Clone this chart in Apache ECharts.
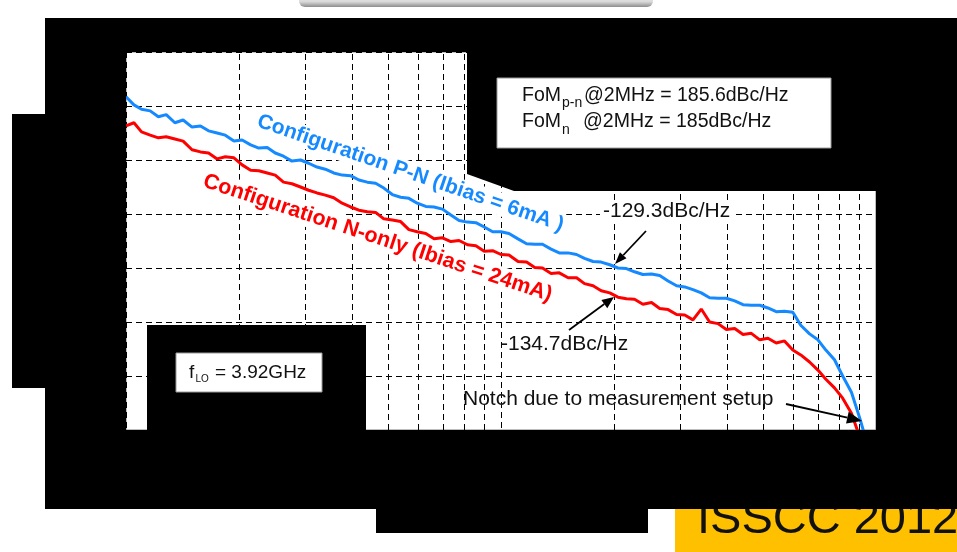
<!DOCTYPE html>
<html>
<head>
<meta charset="utf-8">
<script src="https://cdn.jsdelivr.net/npm/echarts@6/dist/echarts.min.js"></script>
<style>
html,body{margin:0;padding:0;background:#fff;}
#c{width:957px;height:552px;}
</style>
</head>
<body>
<div id="c"></div>
<script>
// Offset frequency (kHz)
const freqKHz = [100,105,110,116,122,128,135,142,150,158,166,175,184,194,204,215,226,238,250,263,277,292,307,323,340,358,377,397,418,440,463,487,513,540,568,598,630,663,698,735,773,814,857,902,950,1000,1050,1110,1170,1230,1290,1360,1430,1510,1590,1670,1760,1850,1950,2050,2160,2270,2390,2520,2650,2790,2940,3090,3250,3420,3600,3790,3990,4200,4420,4650,4900,5150,5420,5700,6000,6300,6650,7000,7350,7750,8150,8600,9050,9500,10000];

// Phase noise, Configuration P-N (dBc/Hz)
const pnPN = [-98.3,-99.8,-100.6,-100.9,-102.0,-101.6,-103.1,-102.6,-103.9,-103.7,-104.6,-105.0,-105.4,-106.5,-106.3,-107.2,-107.8,-107.7,-108.7,-109.3,-110.2,-110.0,-110.6,-111.3,-111.7,-112.4,-112.8,-112.9,-113.7,-114.1,-114.3,-115.2,-116.4,-116.9,-117.1,-118.0,-118.6,-118.7,-119.1,-120.2,-121.2,-121.5,-121.6,-122.4,-123.3,-123.3,-123.6,-124.6,-125.5,-125.6,-125.6,-126.5,-127.2,-127.2,-127.5,-128.2,-128.8,-128.9,-129.4,-130.0,-130.1,-130.7,-131.2,-131.1,-131.4,-132.4,-133.3,-133.5,-134.0,-134.6,-135.5,-135.6,-135.6,-136.1,-136.8,-136.9,-136.9,-137.4,-138.1,-138.0,-138.2,-140.6,-142.2,-143.3,-145.2,-147.0,-150.0,-153.0,-157.8,-162.8,-167.4];

// Phase noise, Configuration N-only (dBc/Hz)
const pnNonly = [-103.7,-103.1,-104.8,-105.4,-105.9,-105.7,-106.1,-106.5,-108.1,-108.5,-108.7,-109.8,-109.4,-109.6,-110.9,-111.9,-112.0,-112.4,-112.8,-114.1,-114.4,-115.0,-115.6,-116.1,-116.5,-117.0,-118.0,-118.7,-119.3,-119.6,-119.7,-120.9,-121.1,-121.4,-122.9,-123.3,-123.6,-124.6,-124.4,-125.1,-124.9,-125.7,-125.9,-126.9,-126.8,-127.5,-127.6,-128.8,-128.9,-129.9,-130.0,-131.0,-130.9,-131.8,-131.8,-132.9,-133.3,-134.2,-134.6,-135.4,-135.7,-135.8,-136.7,-136.4,-137.5,-137.7,-138.6,-138.7,-139.6,-137.6,-140.0,-140.3,-141.4,-141.2,-142.3,-142.1,-143.3,-143.0,-143.9,-143.5,-145.2,-146.1,-147.4,-148.9,-150.6,-152.2,-154.1,-156.9,-161.3,-165.6,-169.3];

// Axis ranges and log minor grid lines (Hz)
const xRange = [1e5, 1e7];
const yRange = [-160, -90];
const yStep = 10;
const minorGridFreqs = [2e5,3e5,4e5,5e5,6e5,7e5,8e5,9e5,2e6,3e6,4e6,5e6,6e6,7e6,8e6,9e6];

const FONT = "'Liberation Sans', Arial, sans-serif";
const BLUE = '#1589ff';
const RED = '#ff0000';

function arrow(x1, y1, x2, y2, hl, hw, z) {
  const a = Math.atan2(y2 - y1, x2 - x1);
  const bx = x2 - hl * Math.cos(a), by = y2 - hl * Math.sin(a);
  const px = -Math.sin(a) * hw / 2, py = Math.cos(a) * hw / 2;
  return [
    {type: 'line', z: z, shape: {x1: x1, y1: y1, x2: bx, y2: by}, style: {stroke: '#000', lineWidth: 1.8}},
    {type: 'polygon', z: z, shape: {points: [[x2, y2], [bx + px, by + py], [bx - px, by - py]]}, style: {fill: '#000'}}
  ];
}
function blk(x, y, w, h) {
  return {type: 'rect', z: 10, shape: {x: x, y: y, width: w, height: h}, style: {fill: '#000'}};
}
function txt(x, y, s, size, opts) {
  return Object.assign({type: 'text', z: 12, x: x, y: y,
    style: Object.assign({text: s, font: size + 'px ' + FONT, fill: '#111', align: 'left', verticalAlign: 'middle'}, (opts && opts.style) || {})},
    (opts && opts.el) || {});
}

const chart = echarts.init(document.getElementById('c'), null, {renderer: 'canvas'});

const graphics = [
  // grey strip at top
  {type: 'rect', z: 10, shape: {x: 299, y: -6, width: 354, height: 13, r: 6},
   style: {fill: new echarts.graphic.LinearGradient(0, 0, 0, 1, [{offset: 0, color: '#f6f6f6'}, {offset: 0.6, color: '#d8d8d8'}, {offset: 1, color: '#8c8c8c'}])}},
  // yellow logo box
  {type: 'rect', z: 9, shape: {x: 675, y: 508, width: 282, height: 44}, style: {fill: '#FFC000'}},
  {type: 'text', z: 9, x: 697, y: 520, style: {text: 'ISSCC 2012', font: '47px ' + FONT, fill: '#111', align: 'left', verticalAlign: 'middle'}},
  // black masks
  blk(45, 18, 912, 34),
  blk(45, 18, 81, 491),
  blk(12, 114, 34, 274),
  blk(45, 430, 912, 79),
  blk(376, 508, 272, 25),
  blk(876, 18, 81, 413),
  blk(147, 325, 219, 106),
  {type: 'polygon', z: 10, shape: {points: [[467, 52], [876, 52], [876, 191], [514, 191], [467, 174]]}, style: {fill: '#000'}},
  // FoM box
  {type: 'rect', z: 11, shape: {x: 497, y: 78, width: 334, height: 70}, style: {fill: '#fff', stroke: '#9a9a9a', lineWidth: 1}},
  txt(522, 96, 'FoM', 19.5),
  txt(562, 103, 'p-n', 14),
  txt(584, 96, '@2MHz = 185.6dBc/Hz', 19.5),
  txt(522, 122, 'FoM', 19.5),
  txt(562, 130.5, 'n', 14),
  txt(583, 122, '@2MHz = 185dBc/Hz', 19.5),
  // f_LO box
  {type: 'rect', z: 11, shape: {x: 176, y: 353, width: 146, height: 39}, style: {fill: '#fff', stroke: '#9a9a9a', lineWidth: 1}},
  txt(189, 372.5, 'f', 19),
  txt(195.5, 379.5, 'LO', 10),
  txt(215, 372.5, '= 3.92GHz', 19),
  // curve labels (below curves, above grid)
  {type: 'text', z: 2, x: 256, y: 120, rotation: -19 * Math.PI / 180,
   style: {text: 'Configuration P-N (Ibias = 6mA )', font: 'bold 21px ' + FONT, fill: BLUE, align: 'left', verticalAlign: 'middle', backgroundColor: '#fff', padding: [1, 2]}},
  {type: 'text', z: 2, x: 202, y: 180, rotation: -18.3 * Math.PI / 180,
   style: {text: 'Configuration N-only (Ibias = 24mA)', font: 'bold 21.5px ' + FONT, fill: RED, align: 'left', verticalAlign: 'middle', backgroundColor: '#fff', padding: [1, 2]}},
  // annotations
  txt(600, 211.7, '-129.3dBc/Hz', 21, {style: {backgroundColor: '#fff', padding: [0, 3]}}),
  txt(501, 344.7, '-134.7dBc/Hz', 21),
  txt(463, 399.7, 'Notch due to measurement setup', 21)
].concat(
  arrow(646, 231, 615, 264, 12, 9, 13),
  arrow(569, 330, 614, 297, 12, 10, 13),
  arrow(786, 404, 862, 421, 15, 12, 13)
);

const option = {
  animation: false,
  backgroundColor: '#fff',
  grid: {left: 126, top: 52, right: 81, bottom: 122, show: true, borderColor: '#7a7a7a', borderWidth: 1, backgroundColor: '#fff'},
  xAxis: {
    type: 'log', logBase: 10, min: xRange[0], max: xRange[1],
    axisLine: {show: false}, axisTick: {show: false}, axisLabel: {show: false},
    splitLine: {show: true, lineStyle: {color: '#000', type: [6, 4], width: 1}}
  },
  yAxis: {
    type: 'value', min: yRange[0], max: yRange[1], interval: yStep,
    axisLine: {show: false}, axisTick: {show: false}, axisLabel: {show: false},
    splitLine: {show: true, lineStyle: {color: '#000', type: [6, 4], width: 1}}
  },
  series: [
    {
      name: 'Configuration P-N', type: 'line', z: 3, showSymbol: false, clip: true,
      data: freqKHz.map((f, i) => [f * 1000, pnPN[i]]),
      lineStyle: {color: BLUE, width: 3}, itemStyle: {color: BLUE},
      markLine: {
        z: 1, silent: true, symbol: ['none', 'none'], label: {show: false}, animation: false,
        lineStyle: {color: '#000', type: [6, 4], width: 1},
        emphasis: {disabled: true},
        data: minorGridFreqs.map(f => ({xAxis: f}))
      }
    },
    {
      name: 'Configuration N-only', type: 'line', z: 3, showSymbol: false, clip: true,
      data: freqKHz.map((f, i) => [f * 1000, pnNonly[i]]),
      lineStyle: {color: RED, width: 3}, itemStyle: {color: RED}
    }
  ],
  graphic: {elements: graphics}
};
chart.setOption(option);
</script>
</body>
</html>
